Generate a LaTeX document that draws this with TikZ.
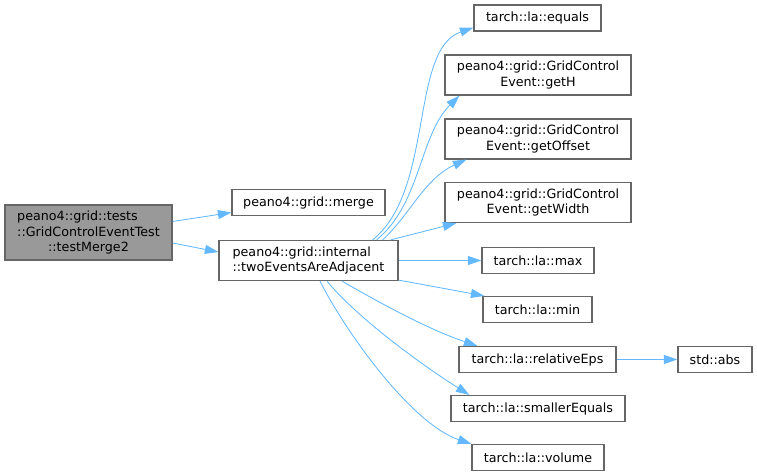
\documentclass[tikz,border=0pt]{standalone}
\usepackage{fontspec}
\setmainfont{DejaVu Sans}
\usepackage{xcolor}
\usepackage{tikz}
\usetikzlibrary{arrows.meta, calc}

\definecolor{edgeblue}{HTML}{63B8FF}
\definecolor{boxline}{HTML}{666666}
\definecolor{rootgray}{HTML}{999999}

\begin{document}
\begin{tikzpicture}[
  x=1pt, y=-1pt,
  fn/.style={draw=boxline, line width=1.2pt, fill=white, inner sep=0pt,
             minimum height=26pt, align=center,
             font=\fontsize{12.7}{15.7}\selectfont},
  fn2/.style={fn, minimum height=40pt},
  rootfn/.style={fn, fill=rootgray},
  arr/.style={-{Triangle[length=13.5pt, width=9pt]}, line width=0.85pt, edgeblue}
]
  \useasboundingbox (0,0) rectangle (757,476);

  \node[rootfn, minimum width=167pt, minimum height=55pt, align=left] (root) at (88.5,232.5)
    {peano4::grid::tests\\::GridControlEventTest\\\hfill::testMerge2\hfill\null};
  \node[fn, minimum width=153pt] (merge) at (308.5,202.5) {peano4::grid::merge};
  \node[fn2, minimum width=179pt, align=left] (adj) at (308.5,260.5)
    {peano4::grid::internal\\::twoEventsAreAdjacent};

  \node[fn, minimum width=127pt] (equals) at (537.5,18) {tarch::la::equals};
  \node[fn2, minimum width=186pt] (geth) at (538,75) {peano4::grid::GridControl\\Event::getH};
  \node[fn2, minimum width=186pt] (getoff) at (538,139) {peano4::grid::GridControl\\Event::getOffset};
  \node[fn2, minimum width=186pt] (getwid) at (538,202.5) {peano4::grid::GridControl\\Event::getWidth};
  \node[fn, minimum width=112pt] (max) at (538,260.5) {tarch::la::max};
  \node[fn, minimum width=109pt] (min) at (537.5,309.5) {tarch::la::min};
  \node[fn, minimum width=157pt] (releps) at (537.5,359.5) {tarch::la::relativeEps};
  \node[fn, minimum width=74pt] (abs) at (715,359.5) {std::abs};
  \node[fn, minimum width=174pt] (smeq) at (538,408.5) {tarch::la::smallerEquals};
  \node[fn, minimum width=132pt] (vol) at (538,457.5) {tarch::la::volume};

  % calls from the test
  \draw[arr] ($(root.east)+(0,-11)$) -- ($(merge.west)+(0,10)$);
  \draw[arr] ($(root.east)+(0,10.5)$) -- ($(adj.west)+(0,-8.5)$);

  % calls from twoEventsAreAdjacent
  \draw[arr] ($(adj.north east)+(-26,0)$) .. controls +(62,-50) and +(-64,22) .. ($(equals.south west)+(0,-4)$);
  \draw[arr] ($(adj.north east)+(-22,0)$) .. controls +(44,-36) and +(-40,40) .. ($(geth.south west)+(15,0)$);
  \draw[arr] ($(adj.north east)+(-16,0)$) .. controls +(28,-26) and +(-42,19) .. ($(getoff.south west)+(22,0)$);
  \draw[arr] ($(adj.north east)+(-8,0)$) -- ($(getwid.south west)+(12,0)$);
  \draw[arr] (adj.east) -- (max.west);
  \draw[arr] ($(adj.south east)+(0,-1)$) -- ($(min.north west)+(2,0)$);
  \draw[arr] ($(adj.south)+(33.5,0)$) .. controls +(38,22) and +(-48,-16) .. ($(releps.north west)+(19,0)$);
  \draw[arr] ($(adj.south)+(18.5,0)$) .. controls +(33,40) and +(-40,-25) .. ($(smeq.north west)+(19,0)$);
  \draw[arr] ($(adj.south)+(11.5,0)$) .. controls +(25,50) and +(-60,-20) .. (vol.north west);
  \draw[arr] (releps) -- (abs);
\end{tikzpicture}
\end{document}
